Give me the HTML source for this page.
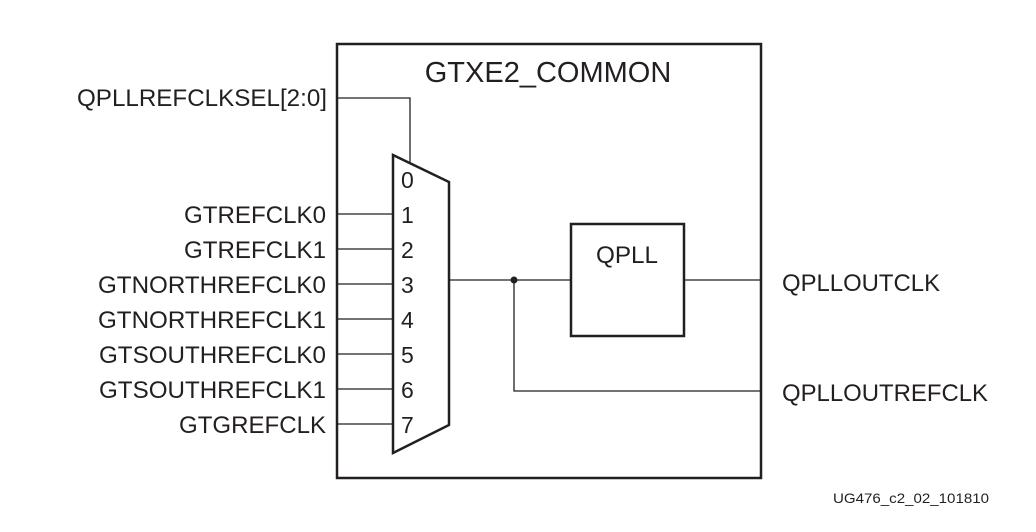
<!DOCTYPE html>
<html><head><style>body{margin:0;background:#fff}</style></head><body>
<svg width="1036" height="527" xmlns="http://www.w3.org/2000/svg" font-family="Liberation Sans, Arial, sans-serif" fill="#231f20">
<rect x="337" y="44" width="424" height="434" fill="none" stroke="#231f20" stroke-width="2.5"/>
<text x="548" y="82" font-size="29" text-anchor="middle">GTXE2_COMMON</text>
<polygon points="393,155 449,182 449,425 393,453" fill="#fff" stroke="#231f20" stroke-width="2.5"/>
<g stroke="#231f20" stroke-width="1.3" fill="none">
<polyline points="337,98 410,98 410,162"/>
<line x1="337" y1="214" x2="393" y2="214"/>
<line x1="337" y1="249" x2="393" y2="249"/>
<line x1="337" y1="284" x2="393" y2="284"/>
<line x1="337" y1="319" x2="393" y2="319"/>
<line x1="337" y1="354" x2="393" y2="354"/>
<line x1="337" y1="389" x2="393" y2="389"/>
<line x1="337" y1="424" x2="393" y2="424"/>
<line x1="449" y1="280" x2="571" y2="280"/>
<line x1="684" y1="280" x2="761" y2="280"/>
<polyline points="514,280 514,391 761,391"/>
</g>
<circle cx="514" cy="280" r="3.5"/>
<rect x="571" y="224" width="113" height="112" fill="#fff" stroke="#231f20" stroke-width="2.5"/>
<text x="596" y="263" font-size="24" textLength="62" lengthAdjust="spacingAndGlyphs">QPLL</text>
<g font-size="23">
<text x="401" y="188">0</text>
<text x="401" y="223">1</text>
<text x="401" y="258">2</text>
<text x="401" y="293">3</text>
<text x="401" y="328">4</text>
<text x="401" y="363">5</text>
<text x="401" y="398">6</text>
<text x="401" y="433">7</text>
</g>
<g font-size="24">
<text x="77" y="106" textLength="250" lengthAdjust="spacingAndGlyphs">QPLLREFCLKSEL[2:0]</text>
<text x="184" y="223" textLength="142" lengthAdjust="spacingAndGlyphs">GTREFCLK0</text>
<text x="184" y="258" textLength="142" lengthAdjust="spacingAndGlyphs">GTREFCLK1</text>
<text x="98" y="293" textLength="228" lengthAdjust="spacingAndGlyphs">GTNORTHREFCLK0</text>
<text x="98" y="328" textLength="228" lengthAdjust="spacingAndGlyphs">GTNORTHREFCLK1</text>
<text x="99" y="363" textLength="227" lengthAdjust="spacingAndGlyphs">GTSOUTHREFCLK0</text>
<text x="99" y="398" textLength="227" lengthAdjust="spacingAndGlyphs">GTSOUTHREFCLK1</text>
<text x="179" y="433" textLength="147" lengthAdjust="spacingAndGlyphs">GTGREFCLK</text>
</g>
<text x="782" y="291" font-size="24" textLength="158" lengthAdjust="spacingAndGlyphs">QPLLOUTCLK</text>
<text x="782" y="401" font-size="24" textLength="206" lengthAdjust="spacingAndGlyphs">QPLLOUTREFCLK</text>
<text x="833" y="503" font-size="14" textLength="156" lengthAdjust="spacingAndGlyphs">UG476_c2_02_101810</text>
</svg>
</body></html>
